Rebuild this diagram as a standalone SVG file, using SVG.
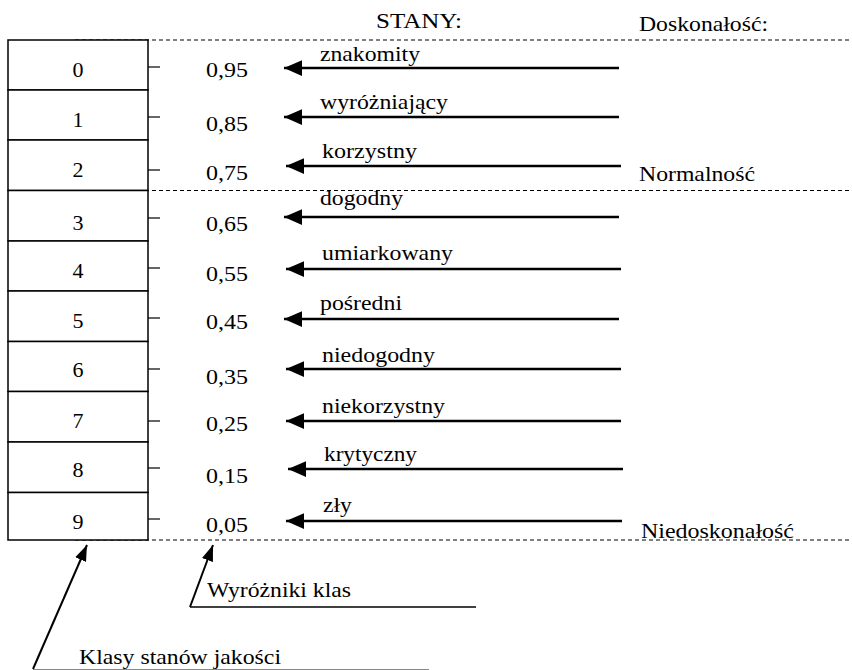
<svg xmlns="http://www.w3.org/2000/svg" width="852" height="670" viewBox="0 0 852 670" font-family="'Liberation Serif', 'Times New Roman', serif">
<defs>
<style>
text{font-family:'Liberation Serif','Times New Roman',serif;font-size:22px;fill:#000}
.cell{fill:#fff;stroke:#000;stroke-width:1.5}
.tick{stroke:#000;stroke-width:1.2}
.dash{stroke:#000;stroke-width:1;stroke-dasharray:4 3;fill:none}
.arr{stroke:#000;stroke-width:2.4;fill:none;marker-end:url(#ah)}
.ptr{stroke:#000;stroke-width:2;fill:none;marker-end:url(#ah2)}
.ul{stroke:#000;stroke-width:1.5}
.num{text-anchor:middle}
</style>
<marker id="ah" markerUnits="userSpaceOnUse" markerWidth="18" markerHeight="16" refX="16" refY="7" orient="auto" viewBox="0 0 16 14">
<path d="M0,0 L16,7 L0,14 z" fill="#000"/>
</marker>
<marker id="ah2" markerUnits="userSpaceOnUse" markerWidth="16" markerHeight="12" refX="15" refY="5.5" orient="auto" viewBox="0 0 15 11">
<path d="M0,0 L15,5.5 L0,11 z" fill="#000"/>
</marker>
</defs>
<rect width="852" height="670" fill="#fff"/>

<g id="headers">
<text x="376" y="28" textLength="86" lengthAdjust="spacingAndGlyphs">STANY:</text>
<text x="639" y="31" textLength="129" lengthAdjust="spacingAndGlyphs">Doskonałość:</text>
<text x="639" y="181" textLength="116" lengthAdjust="spacingAndGlyphs">Normalność</text>
<text x="641" y="538" textLength="153" lengthAdjust="spacingAndGlyphs">Niedoskonałość</text>
</g>

<g id="dashed-levels">
<line class="dash" x1="75" y1="40" x2="852" y2="40"/>
<line class="dash" x1="75" y1="190.5" x2="852" y2="190.5"/>
<line class="dash" x1="75" y1="540" x2="852" y2="540"/>
</g>

<g id="class-0"><rect class="cell" x="8" y="40" width="140" height="50"/><text class="num" x="78" y="77">0</text><line class="tick" x1="148" y1="67" x2="160" y2="67"/><text x="206" y="77" textLength="42" lengthAdjust="spacingAndGlyphs">0,95</text></g>
<g id="class-1"><rect class="cell" x="8" y="90" width="140" height="50"/><text class="num" x="78" y="127">1</text><line class="tick" x1="148" y1="117" x2="160" y2="117"/><text x="206" y="131" textLength="42" lengthAdjust="spacingAndGlyphs">0,85</text></g>
<g id="class-2"><rect class="cell" x="8" y="140" width="140" height="50.5"/><text class="num" x="78" y="177">2</text><line class="tick" x1="148" y1="170" x2="160" y2="170"/><text x="206" y="180" textLength="42" lengthAdjust="spacingAndGlyphs">0,75</text></g>
<g id="class-3"><rect class="cell" x="8" y="190.5" width="140" height="50.5"/><text class="num" x="78" y="230">3</text><line class="tick" x1="148" y1="218" x2="160" y2="218"/><text x="206" y="231" textLength="42" lengthAdjust="spacingAndGlyphs">0,65</text></g>
<g id="class-4"><rect class="cell" x="8" y="241" width="140" height="50"/><text class="num" x="78" y="278">4</text><line class="tick" x1="148" y1="268" x2="160" y2="268"/><text x="206" y="281" textLength="42" lengthAdjust="spacingAndGlyphs">0,55</text></g>
<g id="class-5"><rect class="cell" x="8" y="291" width="140" height="50.5"/><text class="num" x="78" y="328">5</text><line class="tick" x1="148" y1="318" x2="160" y2="318"/><text x="206" y="329" textLength="42" lengthAdjust="spacingAndGlyphs">0,45</text></g>
<g id="class-6"><rect class="cell" x="8" y="341.5" width="140" height="50"/><text class="num" x="78" y="377">6</text><line class="tick" x1="148" y1="369" x2="160" y2="369"/><text x="206" y="384" textLength="42" lengthAdjust="spacingAndGlyphs">0,35</text></g>
<g id="class-7"><rect class="cell" x="8" y="391.5" width="140" height="50.5"/><text class="num" x="78" y="428">7</text><line class="tick" x1="148" y1="421" x2="160" y2="421"/><text x="206" y="431" textLength="42" lengthAdjust="spacingAndGlyphs">0,25</text></g>
<g id="class-8"><rect class="cell" x="8" y="442" width="140" height="50.5"/><text class="num" x="78" y="477">8</text><line class="tick" x1="148" y1="468" x2="160" y2="468"/><text x="206" y="483" textLength="42" lengthAdjust="spacingAndGlyphs">0,15</text></g>
<g id="class-9"><rect class="cell" x="8" y="492.5" width="140" height="47.5"/><text class="num" x="78" y="529">9</text><line class="tick" x1="148" y1="519" x2="160" y2="519"/><text x="206" y="532" textLength="42" lengthAdjust="spacingAndGlyphs">0,05</text></g>

<g id="state-labels">
<text x="320" y="61" textLength="100" lengthAdjust="spacingAndGlyphs">znakomity</text>
<text x="320" y="109" textLength="128" lengthAdjust="spacingAndGlyphs">wyróżniający</text>
<text x="322" y="158" textLength="95" lengthAdjust="spacingAndGlyphs">korzystny</text>
<text x="320" y="205" textLength="83" lengthAdjust="spacingAndGlyphs">dogodny</text>
<text x="322" y="260" textLength="131" lengthAdjust="spacingAndGlyphs">umiarkowany</text>
<text x="320" y="310" textLength="82" lengthAdjust="spacingAndGlyphs">pośredni</text>
<text x="322" y="362" textLength="113" lengthAdjust="spacingAndGlyphs">niedogodny</text>
<text x="322" y="413" textLength="123" lengthAdjust="spacingAndGlyphs">niekorzystny</text>
<text x="324" y="461" textLength="93" lengthAdjust="spacingAndGlyphs">krytyczny</text>
<text x="323" y="512" textLength="29" lengthAdjust="spacingAndGlyphs">zły</text>
</g>

<g id="annotations">
<text x="207" y="597" textLength="144" lengthAdjust="spacingAndGlyphs">Wyróżniki klas</text>
<line class="ul" x1="190" y1="607" x2="476" y2="607"/>
<text x="79" y="664" textLength="202" lengthAdjust="spacingAndGlyphs">Klasy stanów jakości</text>
<line x1="33" y1="669.5" x2="429" y2="669.5" stroke="#888" stroke-width="1"/>
</g>

<g id="connectors">
<line class="arr" x1="619" y1="68" x2="284" y2="68"/>
<line class="arr" x1="619" y1="117" x2="284" y2="117"/>
<line class="arr" x1="621" y1="166" x2="286" y2="166"/>
<line class="arr" x1="619" y1="217" x2="284" y2="217"/>
<line class="arr" x1="621" y1="269" x2="286" y2="269"/>
<line class="arr" x1="619" y1="319" x2="284" y2="319"/>
<line class="arr" x1="621" y1="369" x2="286" y2="369"/>
<line class="arr" x1="621" y1="421" x2="286" y2="421"/>
<line class="arr" x1="623" y1="469" x2="288" y2="469"/>
<line class="arr" x1="622" y1="521" x2="286" y2="521"/>
<line class="ptr" x1="190" y1="607" x2="213" y2="545"/>
<line class="ptr" x1="33" y1="669" x2="87" y2="545"/>
</g>
</svg>
